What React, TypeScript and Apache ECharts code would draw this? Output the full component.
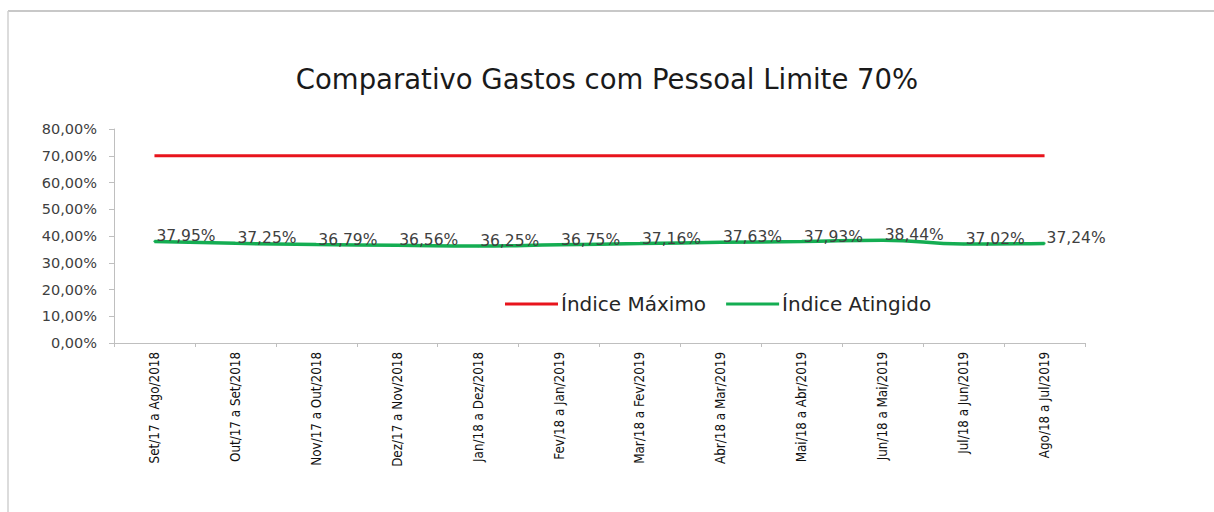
import React, { useEffect, useRef } from "react";
import * as echarts from "echarts";

const categories = [
  "Set/17 a Ago/2018",
  "Out/17 a Set/2018",
  "Nov/17 a Out/2018",
  "Dez/17 a Nov/2018",
  "Jan/18 a Dez/2018",
  "Fev/18 a Jan/2019",
  "Mar/18 a Fev/2019",
  "Abr/18 a Mar/2019",
  "Mai/18 a Abr/2019",
  "Jun/18 a Mai/2019",
  "Jul/18 a Jun/2019",
  "Ago/18 a Jul/2019",
];

const indiceMaximo = [70, 70, 70, 70, 70, 70, 70, 70, 70, 70, 70, 70];
const indiceAtingido = [37.95, 37.25, 36.79, 36.56, 36.25, 36.75, 37.16, 37.63, 37.93, 38.44, 37.02, 37.24];

const titleText = "Comparativo Gastos com Pessoal Limite 70%";
const seriesNames = ["Índice Máximo", "Índice Atingido"];

const fmtPct = (v: number) => v.toFixed(2).replace(".", ",") + "%";

export default function App() {
  const ref = useRef<HTMLDivElement>(null);
  useEffect(() => {
    if (!ref.current) return;
    const chart = echarts.init(ref.current, null, { renderer: "svg" });
    chart.setOption({
      animation: false,
      backgroundColor: "#ffffff",
      title: {
        text: titleText,
        left: "center",
        top: 60,
        textStyle: {
          fontFamily: "DejaVu Sans",
          fontSize: 27.5,
          fontWeight: "normal",
          color: "#1a1a1a",
        },
      },
      graphic: [
        {
          type: "line",
          shape: { x1: 8, y1: 11, x2: 1214, y2: 11 },
          style: { stroke: "#c8c8c8", lineWidth: 2 },
          silent: true,
        },
        {
          type: "line",
          shape: { x1: 8, y1: 11, x2: 8, y2: 512 },
          style: { stroke: "#d0d0d0", lineWidth: 1.5 },
          silent: true,
        },
      ],
      legend: {
        left: 500,
        top: 289,
        itemWidth: 53,
        itemHeight: 14,
        itemGap: 20,
        icon: "path://M0,6 L53,6 L53,9 L0,9 Z",
        textStyle: {
          fontFamily: "DejaVu Sans",
          fontSize: 20,
          color: "#262626",
          padding: [0, 0, 0, -2],
        },
        data: seriesNames,
      },
      grid: { left: 114, right: 129, top: 129, bottom: 169 },
      xAxis: {
        type: "category",
        data: categories,
        boundaryGap: true,
        axisLine: { lineStyle: { color: "#bfbfbf", width: 1 } },
        axisTick: { show: true, length: 4, inside: false, lineStyle: { color: "#bfbfbf" } },
        axisLabel: {
          rotate: 90,
          margin: 9,
          interval: 0,
          fontFamily: "Liberation Sans Narrow, DejaVu Sans Condensed",
          fontSize: 13.3,
          color: "#111111",
        },
        splitLine: { show: false },
      },
      yAxis: {
        type: "value",
        min: 0,
        max: 80,
        interval: 10,
        axisLine: { show: true, lineStyle: { color: "#bfbfbf", width: 1 } },
        axisTick: { show: true, length: 5, lineStyle: { color: "#bfbfbf" } },
        axisLabel: {
          margin: 17,
          fontFamily: "DejaVu Sans",
          fontSize: 14.5,
          color: "#404040",
          formatter: (v: number) => fmtPct(v),
        },
        splitLine: { show: false },
      },
      series: [
        {
          name: seriesNames[0],
          type: "line",
          data: indiceMaximo,
          symbol: "none",
          lineStyle: { color: "#e8141c", width: 3 },
          itemStyle: { color: "#e8141c" },
          silent: true,
        },
        {
          name: seriesNames[1],
          type: "line",
          data: indiceAtingido,
          smooth: true,
          symbol: "circle",
          symbolSize: 2,
          showSymbol: true,
          lineStyle: { color: "#14ad52", width: 3.5 },
          itemStyle: { color: "#14ad52" },
          label: {
            show: true,
            position: "right",
            distance: 1,
            offset: [0, -5],
            fontFamily: "DejaVu Sans",
            fontSize: 15.5,
            color: "#404040",
            formatter: (p: any) => fmtPct(p.value),
          },
          silent: true,
        },
      ],
    });
    return () => chart.dispose();
  }, []);
  return (
    <div
      ref={ref}
      style={{ position: "fixed", left: 0, top: 0, width: 1214, height: 512 }}
    />
  );
}
